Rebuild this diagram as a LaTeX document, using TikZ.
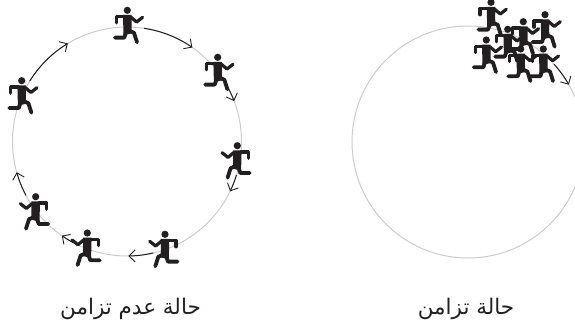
\documentclass[tikz,border=0pt]{standalone}
\usepackage{fontspec}
\usetikzlibrary{arrows.meta}
\TeXXeTstate=1
\newfontfamily\arabicfont[Script=Arabic]{DejaVu Sans}
\definecolor{ink}{HTML}{231F20}
\tikzset{
  ring/.style={draw=black!20,line width=1pt},
  flow/.style={draw=ink,line width=1pt,-{Straight Barb[length=6pt,width=12pt,line width=0.9pt]}},
  caption/.style={text=ink,font=\arabicfont\fontsize{21.5}{24}\selectfont,inner sep=0pt},
  runner/.pic={
    \fill[ink] (0,0) circle[radius=3.6];
    \fill[ink] (-4.3,4.6) -- (4.3,4.6) -- (4.2,16) -- (4.4,23) -- (-3.8,25) -- cycle;
    \draw[ink,line width=3.2pt,line cap=round,line join=round] (-3.5,6.2) -- (-11,6.2) -- (-11,12.5);
    \draw[ink,line width=3.2pt,line cap=round,line join=round] (3.5,6.8) -- (9.3,11.7) -- (15.3,7);
    \draw[ink,line width=3.8pt,line cap=round,line join=round] (-1.5,23) -- (-3,27.3) -- (-12.5,27.3);
    \draw[ink,line width=3.8pt,line cap=round,line join=round] (2,20.5) -- (6.7,22.5) -- (9.7,32);
  },
}
\begin{document}
\begin{tikzpicture}[x=1pt,y=-1pt]
\useasboundingbox (0,0) rectangle (575,327);
\coordinate (L) at (127,141.5);
\coordinate (R) at (468,142);
\begin{scope}
\clip (0,0) rectangle (575,327);
\draw[ring] (L) circle[radius=114.5];
\draw[ring] (R) circle[radius=116];
% arrows, left ring
\draw[flow] (L)+(211.9:114.5) arc[start angle=211.9,end angle=238.9,radius=114.5];
\draw[flow] (L)+(278.6:114.5) arc[start angle=278.6,end angle=304.8,radius=114.5];
\draw[flow] (L)+(332.7:114.5) arc[start angle=332.7,end angle=339.3,radius=114.5];
\draw[flow] (L)+(17:114.5) arc[start angle=17,end angle=25.8,radius=114.5];
\draw[flow] (L)+(76.7:114.5) arc[start angle=76.7,end angle=89.3,radius=114.5];
\draw[flow] (L)+(118.2:114.5) arc[start angle=118.2,end angle=124.7,radius=114.5];
\draw[flow] (L)+(151.9:114.5) arc[start angle=151.9,end angle=164.4,radius=114.5];
% arrow, right ring
\draw[flow] (R)+(317.8:116) arc[start angle=317.8,end angle=330.4,radius=116];
\end{scope}
% runners, left ring
\pic at (127.3,10.3) {runner};
\pic at (217.7,57.3) {runner};
\pic at (21.7,80.7) {runner};
\pic[xscale=-1] at (237.3,145.7) {runner};
\pic[xscale=-1] at (165,234.3) {runner};
\pic[xscale=-1] at (87.3,233) {runner};
\pic[xscale=-1] at (35.7,196.7) {runner};
% runners, right ring
\pic at (491,2.3) {runner};
\pic at (545,14.7) {runner};
\pic at (523.3,21.7) {runner};
\pic at (507.7,29.3) {runner};
\pic at (486.3,40) {runner};
\pic at (520.7,49) {runner};
\pic at (543.3,49) {runner};
% captions
\node[caption] (capL) at (130.5,309) {\beginR حالة عدم تزامن\endR};
\node[caption] (capR) at (466,309) {\beginR حالة تزامن\endR};
\end{tikzpicture}
\end{document}
